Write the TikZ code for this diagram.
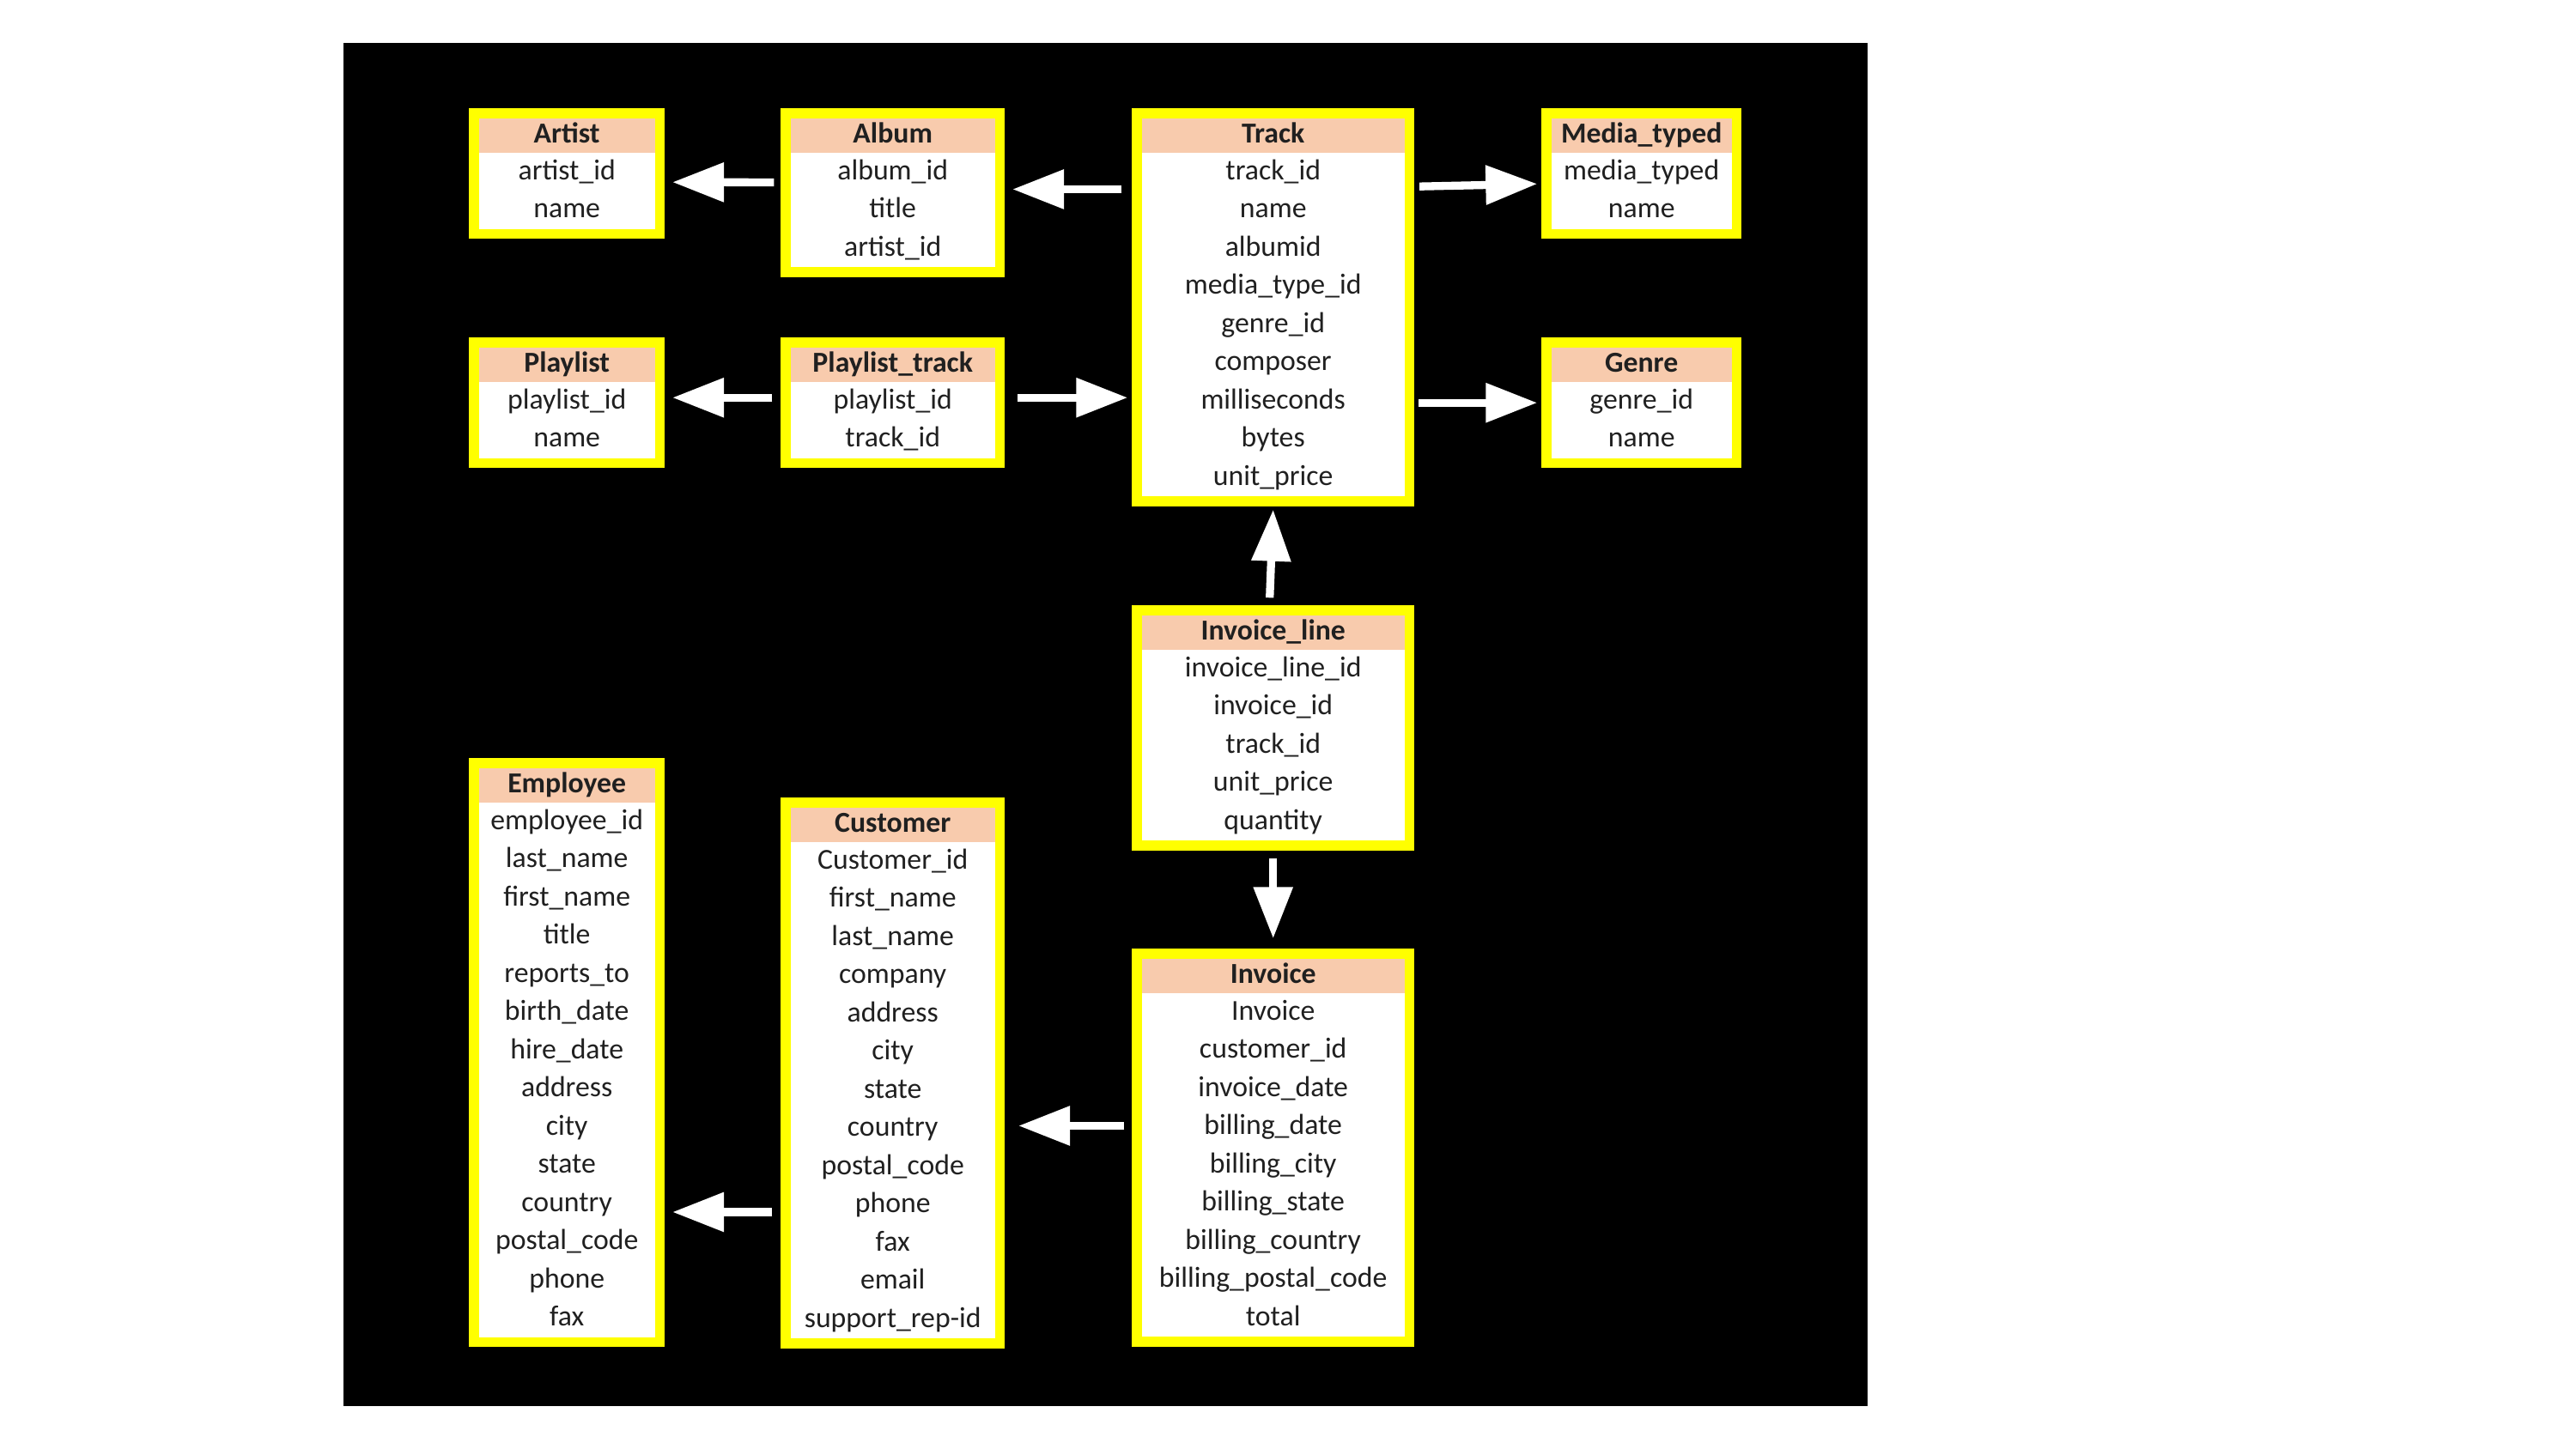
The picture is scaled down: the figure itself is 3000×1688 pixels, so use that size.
\documentclass[tikz,border=0pt]{standalone}
\usepackage{fontspec}
\setmainfont{Carlito}
\usetikzlibrary{calc,positioning,fit,backgrounds,arrows.meta}
\definecolor{frameyellow}{RGB}{255,255,0}
\definecolor{headpeach}{RGB}{248,203,173}
\definecolor{fieldtext}{RGB}{32,32,32}
\newcommand{\tblfont}{\fontsize{9.6pt}{11pt}\selectfont}
\tikzset{%
    tbl_frame/.style={%
        rectangle, fill=frameyellow, inner sep=0.11cm
    },
    tbl_head/.style={%
        rectangle, fill=headpeach, anchor=north west, minimum height=0.40cm, inner sep=0pt,
        text=fieldtext, font=\tblfont\bfseries, text height=1.5ex, text depth=0.4ex
    },
    tbl_field/.style={%
        rectangle, fill=white, anchor=north west, minimum height=0.445cm, inner sep=0pt,
        text=fieldtext, font=\tblfont, text height=1.5ex, text depth=0.4ex
    },
    fkey/.style={%
        white, line width=0.093cm, -{Triangle[length=0.6cm,width=0.44cm]}
    },
}
% #1 name, #2 left, #3 top, #4 width, #5 title, #6 fields
\newcommand{\dbtable}[6]{%
  \node[tbl_head, minimum width={(#4-22)*0.01cm}] (#1-head) at (#2+11,#3+11) {#5};
  \foreach \f [count=\i] in {#6} {
    \node[tbl_field, minimum width={(#4-22)*0.01cm}] (#1-\i) at (#2+11,#3+6.5+44.5*\i) {\f};
    \xdef\lastrow{\i}
  }
  \begin{scope}[on background layer]
    \node[tbl_frame, fit=(#1-head) (#1-\lastrow)] (#1) {};
  \end{scope}
}
\begin{document}
\begin{tikzpicture}[x=0.01cm, y=-0.01cm]
  \useasboundingbox (0,0) rectangle (3000,1688);
  \begin{scope}[on background layer]
    \fill[white] (0,0) rectangle (3000,1688);
    \fill[black] (400,50) rectangle (2175,1638);
  \end{scope}

  \dbtable{artist}{546}{126}{227}{Artist}{artist\_id, name}
  \dbtable{album}{909}{126}{260}{Album}{album\_id, title, artist\_id}
  \dbtable{track}{1318}{126}{328}{Track}{track\_id, name, albumid, media\_type\_id, genre\_id, composer, milliseconds, bytes, unit\_price}
  \dbtable{media}{1795}{126}{232}{Media\_typed}{media\_typed, name}
  \dbtable{playlist}{546}{393}{227}{Playlist}{playlist\_id, name}
  \dbtable{ptrack}{909}{393}{260}{Playlist\_track}{playlist\_id, track\_id}
  \dbtable{genre}{1795}{393}{232}{Genre}{genre\_id, name}
  \dbtable{invline}{1318}{705}{328}{Invoice\_line}{invoice\_line\_id, invoice\_id, track\_id, unit\_price, quantity}
  \dbtable{employee}{546}{883}{227}{Employee}{employee\_id, last\_name, first\_name, title, reports\_to, birth\_date, hire\_date, address, city, state, country, postal\_code, phone, fax}
  \dbtable{customer}{909}{929}{260}{Customer}{Customer\_id, first\_name, last\_name, company, address, city, state, country, postal\_code, phone, fax, email, support\_rep-id}
  \dbtable{invoice}{1318}{1105}{328}{Invoice}{Invoice, customer\_id, invoice\_date, billing\_date, billing\_city, billing\_state, billing\_country, billing\_postal\_code, total}

  \draw[fkey] ($(album.west)+(-7,-12)$) -- ($(artist.east)+(8,10)$);
  \draw[fkey] ($(track.west |- album.west)+(-11,-4)$) -- ($(album.east)+(8,-4)$);
  \draw[fkey] ($(track.east |- media.west)+(5,15)$) -- ($(media.west)+(-4,12)$);
  \draw[fkey] ($(ptrack.west)+(-9,-6)$) -- ($(playlist.east)+(8,-6)$);
  \draw[fkey] ($(ptrack.east)+(14,-6)$) -- ($(track.west |- ptrack.east)+(-4,-6)$);
  \draw[fkey] ($(track.east |- genre.west)+(4,0)$) -- ($(genre.west)+(-4,0)$);
  \draw[fkey] ($(invline.north)+(-4,-8)$) -- ($(track.south)+(0,3)$);
  \draw[fkey] ($(invline.south)+(0,8)$) -- ($(invoice.north)+(0,-11)$);
  \draw[fkey] ($(invoice.west |- customer-8)+(-8,-3)$) -- ($(customer.east |- customer-8)+(15,-3)$);
  \draw[fkey] ($(customer.west |- employee-11)+(-9,10)$) -- ($(employee.east |- employee-11)+(8,10)$);
\end{tikzpicture}
\end{document}
